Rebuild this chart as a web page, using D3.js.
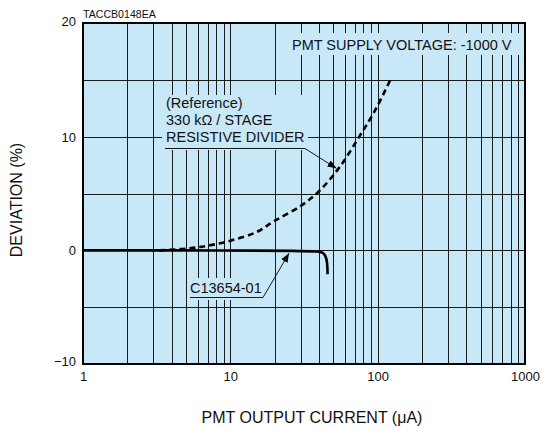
<!DOCTYPE html>
<html><head><meta charset="utf-8">
<script src="https://cdn.jsdelivr.net/npm/d3@7"></script>
<style>body{margin:0;background:#fff}svg{display:block}text{font-family:"Liberation Sans",Arial,sans-serif;fill:#111}</style>
</head><body><svg id="c" width="543" height="427"></svg>
<script>
const xTicks = [1, 10, 100, 1000];
const yTicks = [-10, 0, 10, 20];
const refSeries = [[3.3,0],[5,0.15],[7,0.4],[10,0.85],[15,1.6],[20,2.6],[30,3.9],[40,5.2],[55,7.3],[75,10],[95,12.2],[122,15]];
const c13654 = [[1,0],[10,0],[30,-0.05],[40,-0.1],[42.5,-0.2],[44.2,-0.45],[45.2,-0.9],[45.6,-1.4],[45.7,-2.1]];
const labels = {title:"PMT OUTPUT CURRENT (\u03bcA)", ytitle:"DEVIATION (%)", code:"TACCB0148EA", voltage:"PMT SUPPLY VOLTAGE: -1000 V", ref:["(Reference)","330 k\u03a9 / STAGE","RESISTIVE DIVIDER"], prod:"C13654-01"};

const svg = d3.select("#c");
const L=83,R=525,T=23,B=364;
const x = d3.scaleLog().domain([1,1000]).range([L,R]);
const y = d3.scaleLinear().domain([-10,20]).range([B,T]);
const bg="#c8e8f8";
svg.append("rect").attr("x",L).attr("y",T).attr("width",R-L).attr("height",B-T).attr("fill",bg);
// grid
const minor=[];
for(let d=1;d<1000;d*=10) for(let k=1;k<=10;k++){ if(d*k>1 && d*k<1000) minor.push(d*k); }
const g=svg.append("g");
g.selectAll("line.v").data(minor).join("line").attr("x1",d=>Math.round(x(d))+0.5).attr("x2",d=>Math.round(x(d))+0.5).attr("y1",T).attr("y2",B).attr("stroke","#1a1a1a").attr("stroke-width",1);
g.selectAll("line.h").data([-5,0,5,10,15]).join("line").attr("y1",d=>Math.round(y(d))+0.5).attr("y2",d=>Math.round(y(d))+0.5).attr("x1",L).attr("x2",R).attr("stroke","#1a1a1a").attr("stroke-width",1);
// masks behind text
const masks=[[288,33,231,22],[162,95,146,55],[188,278,76,22]];
svg.selectAll("rect.m").data(masks).join("rect").attr("x",d=>d[0]).attr("y",d=>d[1]).attr("width",d=>d[2]).attr("height",d=>d[3]).attr("fill",bg);
// border
svg.append("rect").attr("x",L).attr("y",T).attr("width",R-L).attr("height",B-T).attr("fill","none").attr("stroke","#000").attr("stroke-width",2);
// axes labels
const xa=svg.append("g").attr("transform",`translate(0,${B})`).call(d3.axisBottom(x).tickValues(xTicks).tickFormat(d3.format("d")).tickSize(0).tickPadding(8));
const ya=svg.append("g").attr("transform",`translate(${L},0)`).call(d3.axisLeft(y).tickValues(yTicks).tickSize(0).tickPadding(7));
[xa,ya].forEach(a=>{a.select(".domain").remove();a.selectAll("text").style("font-family","'Liberation Sans',Arial,sans-serif").style("font-size","13px").attr("fill","#111");});
ya.selectAll("text").attr("dy","0.35em").filter(d=>d===-10).attr("dy","0.1em");
ya.selectAll("text").filter(d=>d===20).attr("dy","0.2em");
// lines
svg.append("path").datum(refSeries).attr("d",d3.line().x(d=>x(d[0])).y(d=>y(d[1])).curve(d3.curveCatmullRom)).attr("fill","none").attr("stroke","#000").attr("stroke-width",2.6).attr("stroke-dasharray","6,4");
svg.append("path").datum(c13654).attr("d",d3.line().x(d=>x(d[0])).y(d=>y(d[1])).curve(d3.curveBasis)).attr("fill","none").attr("stroke","#000").attr("stroke-width",2.6);
// texts
svg.append("text").attr("x",L).attr("y",17.5).style("font-size","10.6px").text(labels.code);
svg.append("text").attr("x",292).attr("y",50).style("font-size","14.5px").text(labels.voltage);
labels.ref.forEach((t,i)=>svg.append("text").attr("x",166).attr("y",108+i*17).style("font-size","14.5px").text(t));
svg.append("text").attr("x",190).attr("y",293).style("font-size","14.5px").text(labels.prod);
svg.append("text").attr("x",312).attr("y",423).attr("text-anchor","middle").style("font-size","16px").text(labels.title);
svg.append("text").attr("transform","translate(21.5,200) rotate(-90)").attr("text-anchor","middle").style("font-size","16px").text(labels.ytitle);
// leader lines with arrows
const defs=svg.append("defs");
defs.append("marker").attr("id","ah").attr("viewBox","0 0 10 10").attr("refX",10).attr("refY",5).attr("markerWidth",9).attr("markerHeight",9).attr("markerUnits","userSpaceOnUse").attr("orient","auto")
 .append("path").attr("d","M0,1 L10,5 L0,9 Z").attr("fill","#000");
svg.append("path").attr("d",`M165,148.5 L305,148.5 L${x(55)-3},${y(7.3)+1}`).attr("fill","none").attr("stroke","#000").attr("stroke-width",0.9).attr("marker-end","url(#ah)");
svg.append("path").attr("d",`M190,297.5 L263,297.5 L${x(25)},${y(0)+3}`).attr("fill","none").attr("stroke","#000").attr("stroke-width",0.9).attr("marker-end","url(#ah)");
</script></body></html>
